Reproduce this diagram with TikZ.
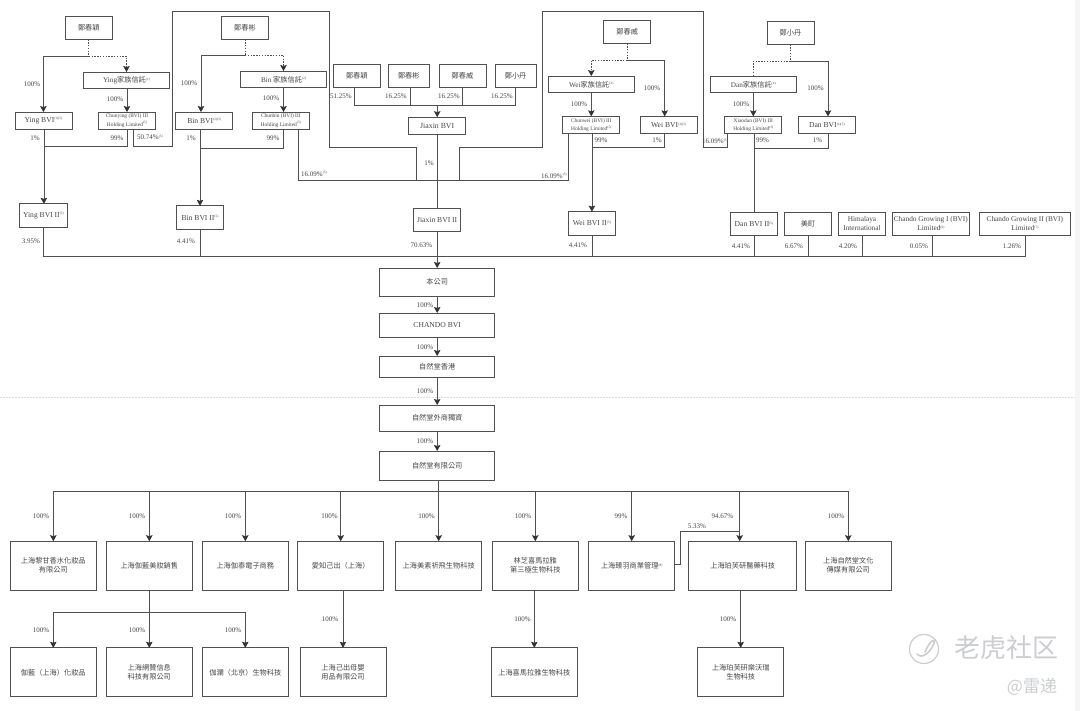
\documentclass[tikz,border=0pt]{standalone}
\usepackage{fontspec}
\usetikzlibrary{positioning,arrows.meta}
\setmainfont{Liberation Serif}
\newfontfamily\zhfont{Noto Sans CJK TC}
\newfontfamily\wmfont{Noto Sans CJK SC}
\newcommand{\zh}[1]{{\zhfont #1}}
\newcommand{\mrk}[1]{\raisebox{2.4pt}{\fontsize{3.4}{4}\selectfont(#1)}}
\definecolor{inkline}{HTML}{505050}
\definecolor{inktext}{HTML}{454545}
\definecolor{wmgrey}{HTML}{CBCDD1}
\tikzset{
  entity/.style = {draw = inkline, line width = .8pt, inner sep = 0pt, outer sep = 0pt,
    align = center, text = inktext, font = \fontsize{7.2}{9}\selectfont},
  sz/.style 2 args = {minimum width = #1, minimum height = #2},
  person/.style = {entity, sz = {47pt}{23.3pt}},
  trust/.style = {entity, sz = {86.5pt}{16.7pt}},
  holding/.style = {entity, sz = {57pt}{17.3pt}, font = \fontsize{5.4}{8.3}\selectfont},
  bvi/.style = {entity, sz = {57pt}{17.3pt}, font = \fontsize{7.6}{9}\selectfont},
  bvitwo/.style = {entity, sz = {47.3pt}{23.4pt}, font = \fontsize{7.6}{9}\selectfont},
  chain/.style = {entity, sz = {115pt}{#1}},
  sub/.style = {entity, sz = {86pt}{49pt}},
  pct/.style = {inner sep = 0pt, text = inktext, font = \fontsize{7}{8}\selectfont},
  link/.style = {draw = inkline, line width = .7pt},
  own/.style = {link, -{Stealth[length = 6pt, width = 6.5pt, inset = 1pt, color = black!80]}},
  control/.style = {link, dash pattern = on 1.4pt off 1.4pt},
  controlown/.style = {own, dash pattern = on 1.4pt off 1.4pt},
}
\begin{document}
\begin{tikzpicture}[x = 1pt, y = -1pt]
  \useasboundingbox (0,0) rectangle (1080,711);
  \fill[black!4] (1075,0) rectangle (1080,711);

  \node[person] (zhengying) at (88.8,27.7) {\zh{鄭春穎}};
  \node[trust, below = 32.7pt of zhengying, xshift = 37.7pt] (yingtrust) {Ying\zh{家族信託}\mrk{1}};
  \node[holding, below = 23.3pt of yingtrust, xshift = .5pt] (chunying) {Chunying (BVI) III\\Holding Limited\mrk{5}};
  \node[bvi, left = 26.6pt of chunying] (yingbvi) {Ying BVI\mrk{1}\mrk{5}};
  \node[bvitwo, below = 74.5pt of yingbvi] (yingbvitwo) {Ying BVI II\mrk{5}};

  \node[person] (zhengbin) at (245,27.7) {\zh{鄭春彬}};
  \node[trust, below = 31.7pt of zhengbin, xshift = 38.5pt] (bintrust) {Bin \zh{家族信託}\mrk{2}};
  \node[holding, below = 24.3pt of bintrust, xshift = -2.7pt] (chunbin) {Chunbin (BVI) III\\Holding Limited\mrk{5}};
  \node[bvi, left = 19.6pt of chunbin] (binbvi) {Bin BVI\mrk{2}\mrk{5}};
  \node[bvitwo, below = 76.5pt of binbvi, xshift = -4.2pt] (binbvitwo) {Bin BVI II\mrk{5}};

  \node[person] (jiaying) at (356.8,75.7) {\zh{鄭春穎}};
  \node[person, minimum width = 41pt, right = 8pt of jiaying] (jiabin) {\zh{鄭春彬}};
  \node[person, right = 9.6pt of jiabin] (jiawei) {\zh{鄭春威}};
  \node[person, minimum width = 41.4pt, right = 9pt of jiawei] (jiadan) {\zh{鄭小丹}};
  \node[bvi, font = \fontsize{7.8}{9}\selectfont] (jiaxin) at (437.2,125.8) {Jiaxin BVI};
  \node[bvitwo, below = 74pt of jiaxin] (jiaxintwo) {Jiaxin BVI II};

  \node[person] (zhengwei) at (627.2,31.7) {\zh{鄭春威}};
  \node[trust, below = 32.7pt of zhengwei, xshift = -35.9pt] (weitrust) {Wei\zh{家族信託}\mrk{3}};
  \node[holding, below = 23.6pt of weitrust] (chunwei) {Chunwei (BVI) III\\Holding Limited\mrk{5}};
  \node[bvi, right = 20.3pt of chunwei] (weibvi) {Wei BVI\mrk{3}\mrk{5}};
  \node[bvitwo, below = 78pt of chunwei, xshift = .6pt] (weibvitwo) {Wei BVI II\mrk{5}};

  \node[person] (zhengdan) at (790.5,32.7) {\zh{鄭小丹}};
  \node[trust, below = 31.7pt of zhengdan, xshift = -37.2pt] (dantrust) {Dan\zh{家族信託}\mrk{4}};
  \node[holding, below = 23.6pt of dantrust] (xiaodan) {Xiaodan (BVI) III\\Holding Limited\mrk{5}};
  \node[bvi, right = 16.6pt of xiaodan] (danbvi) {Dan BVI\mrk{4}\mrk{5}};
  \node[bvitwo] (danbvitwo) at (754,224) {Dan BVI II\mrk{5}};
  \node[bvitwo, right = 6.7pt of danbvitwo, font = \fontsize{7.2}{9}\selectfont] (meiding) {\zh{美町}};
  \node[bvitwo, right = 6.7pt of meiding, font = \fontsize{7.3}{9}\selectfont] (himalaya) {Himalaya\\International};
  \node[bvitwo, minimum width = 77pt, right = 6.7pt of himalaya, font = \fontsize{7.3}{9}\selectfont] (growingone) {Chando Growing I (BVI)\\Limited\mrk{6}};
  \node[bvitwo, minimum width = 91pt, right = 10pt of growingone, font = \fontsize{7.3}{9}\selectfont] (growingtwo) {Chando Growing II (BVI)\\Limited\mrk{7}};

  \node[chain = 28pt] (company) at (437.2,282) {\zh{本公司}};
  \node[chain = 24pt, below = 17pt of company, font = \fontsize{7.6}{9}\selectfont] (chandobvi) {CHANDO BVI};
  \node[chain = 21pt, below = 19pt of chandobvi] (hongkong) {\zh{自然堂香港}};
  \node[chain = 26pt, below = 28pt of hongkong] (wfoe) {\zh{自然堂外商獨資}};
  \node[chain = 29pt, below = 20pt of wfoe] (chandoco) {\zh{自然堂有限公司}};

  \node[sub] (subone) at (53.3,565.7) {\zh{上海黎甘香水化妝品}\\\zh{有限公司}};
  \node[sub, right = 10pt of subone] (subtwo) {\zh{上海伽藍美妝銷售}};
  \node[sub, right = 10pt of subtwo] (subthree) {\zh{上海伽泰電子商務}};
  \node[sub, right = 9.4pt of subthree] (subfour) {\zh{愛知己出（上海）}};
  \node[sub, right = 12pt of subfour] (subfive) {\zh{上海美素祈飛生物科技}};
  \node[sub, right = 10.6pt of subfive] (subsix) {\zh{林芝喜馬拉雅}\\\zh{第三極生物科技}};
  \node[sub, right = 10.4pt of subsix] (subseven) {\zh{上海臻羽商業管理}\mrk{8}};
  \node[sub, minimum width = 108pt, right = 14pt of subseven] (subeight) {\zh{上海珀芙研醫藥科技}};
  \node[sub, right = 8.6pt of subeight] (subnine) {\zh{上海自然堂文化}\\\zh{傳媒有限公司}};

  \node[sub] (lowone) at (53.3,672.3) {\zh{伽藍（上海）化妝品}};
  \node[sub, right = 10pt of lowone] (lowtwo) {\zh{上海網贊信息}\\\zh{科技有限公司}};
  \node[sub, right = 10pt of lowtwo] (lowthree) {\zh{伽瀾（北京）生物科技}};
  \node[sub, right = 11.7pt of lowthree] (lowfour) {\zh{上海己出母嬰}\\\zh{用品有限公司}};
  \node[sub, right = 105.3pt of lowfour] (lowsix) {\zh{上海喜馬拉雅生物科技}};
  \node[sub, right = 120.4pt of lowsix] (loweight) {\zh{上海珀芙研樂沃瑞}\\\zh{生物科技}};

  \coordinate[below = 16.7pt of zhengying] (yingfork);
  \coordinate (yingjoin) at (43.7,146.7);
  \coordinate (bigleftA) at (172.5,146.7);
  \coordinate (bigleftB) at (172.5,11.5);
  \coordinate (bigleftC) at (329.7,11.5);
  \coordinate (bigleftD) at (329.7,147);
  \coordinate (bigleftE) at (416,147);
  \coordinate (fusion) at (437.2,180.3);
  \coordinate (bigrightA) at (459.7,147);
  \coordinate (bigrightB) at (542,147);
  \coordinate (bigrightC) at (542,11.5);
  \coordinate (bigrightD) at (703.3,11.5);
  \coordinate (bigrightE) at (703.3,147.5);
  \coordinate[below = 15.7pt of zhengbin] (binfork);
  \coordinate (binjoin) at (199.7,148.3);
  \coordinate (jiabus) at (437.2,105.3);
  \coordinate[below = 16.7pt of zhengwei] (weifork);
  \coordinate (weijoin) at (591.7,147.7);
  \coordinate[below = 17pt of zhengdan] (danfork);
  \coordinate (danjoin) at (753.5,148);
  \coordinate (topbus) at (1025.3,256);
  \coordinate (subbus) at (438.7,491.5);
  \coordinate (lowbus) at (149.3,612.3);
  \coordinate (kink) at (680,531.7);
  \coordinate (linefrom) at (0,397);
  \coordinate (lineto) at (1075,397);

  \draw[black!14, line width = .6pt, dash pattern = on 2pt off 1pt] (linefrom) -- (lineto);

  \draw[control] (zhengying) -- (yingfork);
  \draw[own] (yingfork) -| (yingbvi);
  \draw[controlown] (yingfork) -| (yingtrust);
  \draw[own] (yingtrust.south -| chunying) -- (chunying);
  \draw[own] ([xshift = .5pt]yingbvi.south) -- ([xshift = .5pt]yingbvitwo.north);
  \draw[link] (chunying) |- (yingjoin);
  \draw[link] ([xshift = 35pt]chunying.south west) |- (bigleftA) -- (bigleftB) -- (bigleftC) -- (bigleftD) -- (bigleftE) -- (bigleftE |- fusion);

  \draw[control] (zhengbin) -- (binfork);
  \draw[own] (binfork) -| ([xshift = 25.3pt]binbvi.north west);
  \draw[controlown] (binfork) -| (bintrust);
  \draw[own] (bintrust) -- (bintrust |- chunbin.north);
  \draw[own] (binbvi.south -| binbvitwo) -- (binbvitwo);
  \draw[link] (bintrust |- chunbin.south) |- (binjoin);
  \draw[link] ([xshift = 46.2pt]chunbin.south west) |- (fusion) -| ([xshift = 5.3pt]chunwei.south west);

  \draw[link] (jiaying.south -| 354.7,0) |- (jiabus);
  \draw[link] (jiadan) |- (jiabus);
  \draw[link] (jiabin.south -| 410.3,0) -- (jiabus -| 410.3,0);
  \draw[link] (jiawei) -- (jiawei |- jiabus);
  \draw[own] (jiabus) -- (jiaxin);
  \draw[link] (jiaxin) -- (jiaxintwo);
  \draw[own] (jiaxintwo) -- (company);

  \draw[link] (fusion -| bigrightA) -- (bigrightA) -- (bigrightB) -- (bigrightC) -- (bigrightD) -- (bigrightE) -| ([xshift = 3pt]xiaodan.south west);

  \draw[control] (zhengwei) -- (weifork);
  \draw[own] (weifork) -| (weibvi.north -| 664.7,0);
  \draw[controlown] (weifork) -| (weitrust);
  \draw[own] (weitrust) -- (chunwei);
  \draw[own] (chunwei.south -| weibvitwo) -- (weibvitwo);
  \draw[link] (weibvi.south -| 664.7,0) |- (weijoin);

  \draw[control] (zhengdan) -- (danfork);
  \draw[own] (danfork) -| (danbvi.north -| 828,0);
  \draw[control] (danfork) -| (dantrust);
  \draw[own] (dantrust) -- (xiaodan);
  \draw[link] (xiaodan.south -| danbvitwo) -- (danbvitwo);
  \draw[link] (danbvi.south -| 828,0) |- (danjoin);

  \draw[link] (yingbvitwo.south -| yingjoin) |- (topbus) -- (growingtwo.south -| topbus);
  \draw[link] (binbvitwo) -- (binbvitwo |- topbus);
  \draw[link] (weibvitwo) -- (weibvitwo |- topbus);
  \draw[link] (danbvitwo) -- (danbvitwo |- topbus);
  \draw[link] (meiding) -- (meiding |- topbus);
  \draw[link] (himalaya) -- (himalaya |- topbus);
  \draw[link] (growingone.south -| 932.3,0) -- (topbus -| 932.3,0);

  \draw[own] (company) -- (chandobvi);
  \draw[own] (chandobvi) -- (hongkong);
  \draw[own] (hongkong) -- (wfoe);
  \draw[own] (wfoe) -- (chandoco);
  \draw[link] (chandoco.south -| subbus) -- (subbus);

  \draw[own] (subbus) -| (subone);
  \draw[own] (subbus) -| (subnine);
  \draw[own] (subtwo |- subbus) -- (subtwo);
  \draw[own] (subthree |- subbus) -- (subthree);
  \draw[own] (subfour |- subbus) -- (subfour);
  \draw[own] (subbus) -- (subfive.north -| subbus);
  \draw[own] (subsix |- subbus) -- (subsix);
  \draw[own] (subseven |- subbus) -- (subseven);
  \draw[own] (subbus -| 739.7,0) -- (subeight.north -| 739.7,0);
  \draw[link] ([yshift = 1.6pt]subseven.east) -| (kink) -- (kink -| 739.7,0);

  \draw[link] (subtwo) -- (lowbus);
  \draw[own] (lowbus) -| (lowone);
  \draw[own] (lowbus) -- (lowtwo);
  \draw[own] (lowbus) -| (lowthree);
  \draw[own] (subfour.south -| lowfour) -- (lowfour);
  \draw[own] (subsix.south -| lowsix) -- (lowsix);
  \draw[own] (subeight.south -| loweight) -- (loweight);

  \node[pct] (pctA) at (32,84) {100\%};
  \node[pct] (pctB) at (115,99.5) {100\%};
  \node[pct] (pctC) at (35,138) {1\%};
  \node[pct] (pctD) at (117,138) {99\%};
  \node[pct] (pctE) at (150,137.5) {50.74\%\mrk{5}};
  \node[pct] (pctF) at (189,83) {100\%};
  \node[pct] (pctG) at (271,98.5) {100\%};
  \node[pct] (pctH) at (191,138.5) {1\%};
  \node[pct] (pctI) at (273,138.5) {99\%};
  \node[pct] (pctJ) at (314,174) {16.09\%\mrk{5}};
  \node[pct] (pctK) at (341,96.3) {51.25\%};
  \node[pct] (pctL) at (396,96.3) {16.25\%};
  \node[pct] (pctM) at (449,96.3) {16.25\%};
  \node[pct] (pctN) at (502,96.3) {16.25\%};
  \node[pct] (pctO) at (429,163.5) {1\%};
  \node[pct] (pctP) at (652,88) {100\%};
  \node[pct] (pctQ) at (579,104.5) {100\%};
  \node[pct] (pctR) at (601,140) {99\%};
  \node[pct] (pctS) at (657,140.5) {1\%};
  \node[pct] (pctT) at (554,176) {16.09\%\mrk{5}};
  \node[pct] (pctU) at (815.5,88.5) {100\%};
  \node[pct] (pctV) at (741,104.5) {100\%};
  \node[pct] (pctW) at (762.5,140) {99\%};
  \node[pct] (pctX) at (817.5,140.5) {1\%};
  \node[pct] (pctY) at (715,141.5) {16.09\%\mrk{5}};
  \node[pct] (pctZ) at (31,241) {3.95\%};
  \node[pct] (pctAA) at (186,241.5) {4.41\%};
  \node[pct] (pctAB) at (421.5,245) {70.63\%};
  \node[pct] (pctAC) at (578,245) {4.41\%};
  \node[pct] (pctAD) at (741,246.5) {4.41\%};
  \node[pct] (pctAE) at (794,246.5) {6.67\%};
  \node[pct] (pctAF) at (848,246.5) {4.20\%};
  \node[pct] (pctAG) at (919,246.5) {0.05\%};
  \node[pct] (pctAH) at (1012,246.5) {1.26\%};
  \node[pct] (pctAI) at (425,305) {100\%};
  \node[pct] (pctAJ) at (425,347) {100\%};
  \node[pct] (pctAK) at (425,391.5) {100\%};
  \node[pct] (pctAL) at (425,441) {100\%};
  \node[pct] (pctAM) at (41,516) {100\%};
  \node[pct] (pctAN) at (137,516) {100\%};
  \node[pct] (pctAO) at (233,516) {100\%};
  \node[pct] (pctAP) at (329.5,516) {100\%};
  \node[pct] (pctAQ) at (426.5,516) {100\%};
  \node[pct] (pctAR) at (523,516) {100\%};
  \node[pct] (pctAS) at (621,516) {99\%};
  \node[pct] (pctAT) at (722.5,516) {94.67\%};
  \node[pct] (pctAU) at (697,526.5) {5.33\%};
  \node[pct] (pctAV) at (836,516.5) {100\%};
  \node[pct] (pctAW) at (41,630) {100\%};
  \node[pct] (pctAX) at (137,630) {100\%};
  \node[pct] (pctAY) at (233,630) {100\%};
  \node[pct] (pctAZ) at (330,619.5) {100\%};
  \node[pct] (pctBA) at (522.5,619.5) {100\%};
  \node[pct] (pctBB) at (728,619.5) {100\%};

  \draw[wmgrey, line width = 1.2pt] (924,649) circle (14.5pt);
  \draw[wmgrey, line width = 1.6pt, line cap = round] (917,654) .. controls (922,660) and (932,652) .. (935,640) .. controls (930,640) and (927,648) .. (925,652);
  \node[inner sep = 0pt, text = wmgrey, font = \wmfont\fontsize{26}{28}\selectfont] (wmtiger) at (1006,648) {老虎社区};
  \node[inner sep = 0pt, text = wmgrey, font = \wmfont\fontsize{17}{19}\selectfont] (wmname) at (1032,686.5) {@雷递};
\end{tikzpicture}
\end{document}
